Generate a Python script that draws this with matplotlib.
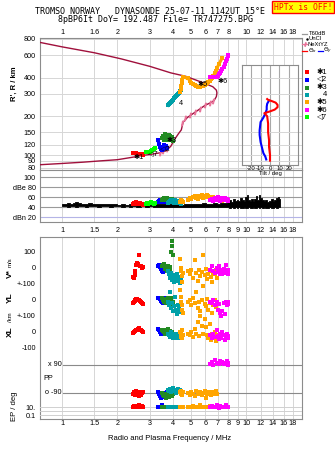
import numpy as np
import matplotlib.pyplot as plt
from matplotlib.ticker import NullLocator
from matplotlib.patches import Rectangle

plt.rcParams['font.family'] = ['Liberation Sans', 'DejaVu Sans']
plt.rcParams['font.size'] = 5.2

# ---- data ----
freq_ticks = [1, 1.5, 2, 3, 4, 5, 6, 7, 8, 9, 10, 12, 14, 16, 18]
top_labels = ['1', '1.6', '2', '3', '4', '5', '6', '7', '8', '', '10', '12', '14', '16', '18']
low_labels = ['1', '1.5', '2', '3', '4', '5', '6', '7', '8', '9', '10', '12', '14', '16', '18']
height_ticks = [80, 90, 100, 120, 150, 200, 300, 400, 600, 800]

# model profile (bottomside then topside)
prof_f = [0.75, 1.0, 1.3, 1.6, 2.0, 2.4, 2.7, 3.0, 3.4, 3.7, 3.9, 4.1, 4.3, 4.45, 4.55, 4.8, 5.1,
          5.5, 6.0, 6.4, 6.7, 6.9, 6.95, 6.9, 6.6, 6.0, 5.3, 4.7, 3.9, 3.0, 2.1, 1.5, 1.0, 0.75]
prof_h = [84, 86, 88, 90, 92, 96, 99, 101, 104, 109, 117, 133, 147, 157, 180, 196, 208,
          224, 244, 255, 265, 285, 305, 320, 340, 360, 385, 410, 436, 490, 560, 625, 695, 755]
nexyz_f = [3.4, 3.55, 3.7, 4.47, 4.66, 4.97, 5.28, 5.62, 5.98, 6.37, 6.62]
nexyz_h = [104, 108, 111, 178, 193, 204, 216, 230, 244, 254, 265]

# echo 1 (red)
e1_f = [2.42, 2.45, 2.48, 2.50, 2.53, 2.56, 2.59, 2.62, 2.65, 2.68, 2.72, 2.76]
e1_h = [104, 104, 103.5, 103, 103, 102.5, 102, 102, 101.5, 101, 101, 100.5]
e1_db = [46, 48, 49, 47, 50, 48, 49, 47, 48, 46, 47, 45]
e1_v = [-55, -60, -45, -20, 20, 30, 25, 80, 10, 15, 0, 5]
e1_yl = [-20, -15, -5, 0, 5, 5, 0, 0, -5, -10, -20, -25]
e1_xl = [-5, 0, 5, 5, 10, 15, 20, 25, 15, 10, 5, 0]
e1_pp = [-95, -85, -100, -90, -80, -95, -88, -110, -85, -100, -90, -82]
e1_ep = [12, 15, 10, 20, 11, 14, 10, 25, 12, 10, 18, 11]
# echo 2 (blue)
e2_f = [3.32, 3.36, 3.40, 3.44, 3.48, 3.52, 3.56, 3.60, 3.66, 3.72]
e2_h = [130, 122, 116, 112, 110, 112, 116, 120, 118, 114]
e2_db = [50, 52, 54, 53, 51, 55, 52, 50, 53, 51]
e2_v = [15, 20, 5, -5, -20, -25, -10, 0, 10, -15]
e2_yl = [15, 10, 5, -5, -15, -20, 0, 10, 5, -10]
e2_xl = [20, 10, 0, -10, 5, 15, -5, 0, 10, -15]
e2_pp = [-85, -95, -110, -120, -100, -90, -105, -115, -95, -85]
e2_ep = [10, 12, 8, 10, 30, 10, 9, 11, 10, 8]
# echo 3 (dark green)
e3_f = [3.50, 3.55, 3.60, 3.64, 3.68, 3.72, 3.76, 3.80, 3.84, 3.88, 3.92, 3.95, 3.98, 4.02]
e3_h = [135, 140, 132, 145, 138, 142, 130, 143, 136, 140, 132, 138, 130, 128]
e3_db = [54, 56, 58, 55, 57, 59, 56, 54, 57, 55, 53, 56, 52, 54]
e3_v = [10, 20, 25, -5, 0, -20, 15, -30, 5, -10, 100, 170, 140, 80]
e3_yl = [10, 0, -10, 5, -20, -5, 15, -30, 0, -15, 10, -40, -25, -10]
e3_xl = [15, 5, 0, -10, 10, -5, 20, 0, -15, 5, -10, 0, -5, -10]
e3_pp = [-90, -100, -110, -95, -120, -105, -90, -115, -100, -95, -85, -100, -110, -95]
e3_ep = [10, 9, 11, 10, 8, 10, 12, 10, 9, 10, 11, 10, 9, 10]
# echo 4 (teal)
e4_f = [3.78, 3.83, 3.88, 3.93, 3.98, 4.03, 4.08, 4.13, 4.18, 4.23, 4.28, 4.33, 4.38, 4.43]
e4_h = [244, 249, 254, 259, 265, 270, 276, 282, 288, 294, 300, 306, 313, 320]
e4_db = [48, 50, 52, 55, 51, 53, 49, 54, 50, 52, 48, 51, 49, 47]
e4_v = [-20, -40, -60, -30, -75, -50, -90, -45, -70, -35, -80, -55, -95, -60]
e4_yl = [-10, -30, 50, -50, -20, -70, -40, 20, -60, -85, -30, -50, -75, -20]
e4_xl = [-10, -20, -30, 0, -25, -40, -15, -35, -20, -10, -30, -40, -5, -25]
e4_pp = [-70, -80, -65, -85, -75, -60, -80, -70, -90, -75, -65, -85, -70, -80]
e4_ep = [10, 11, 10, 9, 10, 12, 10, 11, 9, 10, 10, 11, 10, 9]
# echo 5 (orange)
e5_f = [4.38, 4.41, 4.44, 4.47, 4.50, 4.53, 4.85, 4.95, 5.05, 5.15, 5.25, 5.35, 5.45, 5.55, 5.65,
        5.75, 5.85, 5.95, 6.05, 6.15, 6.25, 6.35, 6.45, 6.55, 6.65, 6.75, 6.85, 6.95, 7.15, 7.40]
e5_h = [309, 325, 345, 365, 385, 406, 395, 378, 365, 355, 348, 342, 340, 338, 340,
        343, 346, 350, 356, 362, 370, 378, 388, 400, 415, 432, 452, 475, 515, 565]
e5_db = [50, 52, 54, 51, 53, 50, 55, 58, 56, 60, 62, 59, 57, 63, 61,
         64, 58, 62, 60, 65, 63, 59, 61, 58, 60, 56, 58, 55, 54, 52]
e5_v = [55, 0, -20, -50, -90, -30, -20, -40, -10, -60, 50, -30, -80, -15, -50,
        -25, 80, -45, -5, -70, -35, -20, -55, -90, -30, -40, -10, -60, np.nan, np.nan]
e5_yl = [60, 20, -10, -30, -60, -80, -10, 0, -30, 10, -20, 50, -50, -15, -70,
         0, 90, -25, -40, 5, -60, -20, -10, -80, -30, 0, -45, -20, np.nan, np.nan]
e5_xl = [0, -15, -30, -40, 10, -20, -10, -20, 0, -30, 20, -15, 60, -25, 100,
         40, -10, 80, 30, -20, -40, 50, -50, -10, -35, 0, -55, -20, np.nan, np.nan]
e5_pp = [-85, -95, -80, -100, -90, -85, -90, -100, -85, -95, -110, -80, -90, -95, -85,
         -100, -90, -80, -120, -95, -85, -90, -100, -85, -95, -90, -80, -95, np.nan, np.nan]
e5_ep = [10, 12, 9, 10, 11, 10, 9, 12, 10, 20, 10, 9, 11, 10, 25,
         10, 12, 9, 10, 11, 10, 18, 10, 9, 11, 10, 12, 10, np.nan, np.nan]
# echo 6 (magenta)
e6_f = [6.35, 6.50, 6.65, 6.80, 6.95, 7.05, 7.15, 7.25, 7.35, 7.45, 7.55, 7.65, 7.75, 7.85, 7.95, 8.0]
e6_h = [405, 403, 402, 404, 408, 415, 425, 438, 452, 468, 488, 510, 535, 560, 585, 600]
e6_db = [54, 56, 52, 58, 55, 60, 57, 53, 59, 56, 54, 58, 55, 57, 53, 55]
e6_v = [-10, 10, -20, -30, 0, -25, 15, -35, -15, -40, -5, -30, 20, -20, -35, -10]
e6_yl = [-10, -20, 0, -30, -15, -60, -25, -80, -100, -70, -20, -90, -10, -30, -25, -15]
e6_xl = [-20, -40, -10, -30, 10, -25, -45, -15, -35, 0, -20, -50, -30, -10, -25, -40]
e6_pp = [95, 110, 90, 120, 100, 105, 95, 115, 100, 110, 95, 105, 100, 115, 90, 100]
e6_ep = [10, 20, 8, 12, 30, 10, 5, 15, 10, 9, 12, 10, 25, 10, 8, 11]
# echo 7 (lime)
e7_f = [2.85, 2.90, 2.95, 3.00, 3.05, 3.10, 3.15, 3.22]
e7_h = [106, 105, 105, 106, 107, 109, 111, 113]
e7_db = [46, 48, 47, 49, 50, 48, 47, 49]

echo_colors = ['#ff0000', '#0000ff', '#228b22', '#00a0a8', '#ffa500', '#ff00ff', '#00ff00']
echo_names = ['\u27311', '\u25c12', '\u27313', '4', '\u27315', '\u27316', '\u25c17']
label_f = [2.62, 3.63, 3.96, 4.43, 5.84, 7.51, 3.12]
label_h = [95.5, 112, 130, 253, 355, 376, 103]

# noise amplitude
noise_f = [1.0, 1.04, 1.08, 1.12, 1.16, 1.2, 1.25, 1.3, 1.36, 1.42, 1.5, 1.58, 1.66, 1.75, 1.85, 1.95,
           2.05, 2.15, 2.25, 2.35, 2.45, 2.6, 2.75, 2.9, 3.05, 3.2,
           3.4, 3.6, 3.8, 4.0, 4.25, 4.5, 4.75, 5.0,
           5.3, 5.6, 5.9, 6.2, 6.5, 6.8, 7.1, 7.4, 7.7, 8.0,
           8.2, 8.4, 8.6, 8.8, 9.0, 9.2, 9.4, 9.6, 9.8, 10.0,
           10.2, 10.4, 10.6, 10.8, 11.0, 11.2, 11.4, 11.6, 11.8, 12.0,
           12.3, 12.6, 12.9, 13.2, 13.5, 13.8, 14.1, 14.4, 14.7, 15.0, 15.3]
noise_hi = [47, 46, 48, 47, 49, 50, 48, 47, 46, 48, 47, 46, 47, 46, 47, 46,
            45, 46, 45, 46, 45, 46, 45, 46, 45, 46,
            46, 47, 46, 47, 46, 45, 46, 47,
            47, 46, 48, 47, 46, 48, 47, 49, 48, 50,
            54, 50, 57, 52, 55, 53, 58, 54, 52, 60,
            65, 55, 52, 57, 53, 56, 62, 54, 65, 58,
            55, 52, 54, 51, 53, 56, 52, 55, 58, 60, 56]
noise_lo = [42, 42, 41, 42, 42, 41, 42, 42, 41, 42, 42, 41, 42, 42, 41, 42,
            42, 41, 42, 41, 42, 41, 42, 41, 42, 41,
            41, 40, 41, 40, 41, 40, 41, 40,
            41, 40, 41, 40, 41, 40, 41, 40, 41, 40,
            39, 40, 38, 40, 39, 40, 38, 39, 40, 39,
            38, 40, 39, 38, 40, 39, 38, 40, 39, 40,
            39, 40, 38, 39, 40, 39, 38, 40, 39, 40, 41]

# tilt vs height
tiltx_deg = [0, 0, -1, -1, -2, -2, -3, -6, 0, 5, 8, 8, 6, 2, -2, -3]
tiltx_h = [90, 100, 115, 130, 150, 175, 200, 211, 218, 225, 235, 245, 255, 262, 268, 272]
tilty_deg = [-4, -5, -7, -8, -10, -11, -11, -10, -7, -5, -3.5, -3.5, -3, -1]
tilty_h = [92, 97, 103, 110, 126, 143, 155, 180, 195, 210, 225, 237, 250, 265]

# ---- figure ----
W, H = 335, 451
fig = plt.figure(figsize=(W / 100, H / 100), dpi=100)


def box(x0, y0, x1, y1):
    return [x0 / W, 1 - y1 / H, (x1 - x0) / W, (y1 - y0) / H]


GRID = '#d6d6d6'
FRAME = '#8c8c8c'


def freq_axes(ax, grid=True):
    ax.set_xscale('log')
    ax.set_xlim(0.759, 20.15)
    ax.set_xticks(freq_ticks)
    ax.xaxis.set_minor_locator(NullLocator())
    ax.yaxis.set_minor_locator(NullLocator())
    for s in ax.spines.values():
        s.set_color(FRAME)
        s.set_linewidth(0.8)
    ax.tick_params(length=0, labelsize=5.2)
    if grid:
        for f in freq_ticks:
            ax.axvline(f, color=GRID, lw=0.7, zorder=0)


# top: virtual height
ax1 = fig.add_axes(box(40, 38.3, 302, 170))
freq_axes(ax1)
ax1.set_yscale('log')
ax1.set_ylim(76.5, 810)
ax1.yaxis.set_minor_locator(NullLocator())
ax1.set_yticks(height_ticks)
ax1.set_yticklabels([str(h) for h in height_ticks])
ax1.tick_params(axis='y', pad=3)
ax1.xaxis.tick_top()
ax1.set_xticklabels(top_labels)
ax1.tick_params(axis='x', pad=1.5)
for h in height_ticks:
    ax1.axhline(h, color=GRID, lw=0.7, zorder=0)

ax1.plot(prof_f, prof_h, color='#a0103c', lw=1.0, zorder=3)
ax1.plot(nexyz_f, nexyz_h, ls='none', marker='$I$', ms=3.2, color='#e8749a', zorder=4)

echo_f = [e1_f, e2_f, e3_f, e4_f, e5_f, e6_f, e7_f]
echo_h = [e1_h, e2_h, e3_h, e4_h, e5_h, e6_h, e7_h]
echo_db = [e1_db, e2_db, e3_db, e4_db, e5_db, e6_db, e7_db]
for f, h, c in zip(echo_f, echo_h, echo_colors):
    ax1.plot(f, h, color=c, lw=2.2, marker='s', ms=2.3, mew=0, zorder=5)
for name, lf, lh in zip(echo_names, label_f, label_h):
    ax1.text(lf, lh, name, fontsize=5.2, color='black',
             ha='center', va='center', zorder=6)

# tilt inset
axt = fig.add_axes(box(241.7, 65, 298.3, 165))
axt.set_zorder(ax1.get_zorder() + 1)
axt.set_facecolor('white')
axt.set_yscale('log')
axt.set_ylim(83.3, 501)
axt.yaxis.set_minor_locator(NullLocator())
axt.set_yticks([])
axt.set_xlim(-30, 30)
axt.set_xticks([-20, -10, 0, 10, 20])
axt.set_xticklabels(['-20', '-10', '0', '10', '20'])
axt.tick_params(length=0, labelsize=4.3, pad=1)
axt.set_xlabel('Tilt / deg', fontsize=4.3, labelpad=0)
for s in axt.spines.values():
    s.set_color(FRAME)
    s.set_linewidth(0.8)
for t in [-20, -10, 0, 10, 20]:
    axt.axvline(t, color='#a8a8a8', lw=0.8, zorder=0)
for h in [90, 100, 120, 150, 200, 300, 400]:
    axt.axhline(h, color=GRID, lw=0.7, zorder=0)
axt.plot(tilty_deg, tilty_h, color='#0000ff', lw=1.5)
axt.plot(tiltx_deg, tiltx_h, color='#ff0000', lw=1.5)

# amplitude panel
ax2 = fig.add_axes(box(40, 170, 302, 222.3))
freq_axes(ax2)
ax2.set_ylim(9.4, 114)
ax2.set_yticks([20, 40, 60, 80, 100])
ax2.set_yticklabels(['dBn 20', '40', '60', 'dBe 80', '100'])
ax2.tick_params(axis='y', pad=3)
ax2.set_xticklabels(low_labels)
ax2.tick_params(axis='x', pad=3.3)
for lv in [40, 60, 80, 100]:
    ax2.axhline(lv, color='#9a9a9a', lw=0.8, zorder=1)
ax2.axhline(20, color='#b4b4e6', lw=0.8, zorder=1)
ax2.fill_between(noise_f, noise_lo, noise_hi, step='mid', color='black', lw=0.6, zorder=2)
for f, d, c in zip(echo_f, echo_db, echo_colors):
    ax2.plot(f, d, ls='none', marker='s', ms=3, mew=0, color=c, zorder=3)

# lower panel: frame, grid and bottom ticks
ax3 = fig.add_axes(box(40, 237, 302, 419))
freq_axes(ax3)
ax3.set_yticks([])
ax3.set_xticklabels(low_labels)
ax3.tick_params(axis='x', pad=0.8)


def strip(y0, y1, lim, log=False):
    ax = fig.add_axes(box(40, y0, 302, y1), sharex=ax3)
    ax.patch.set_visible(False)
    for s in ax.spines.values():
        s.set_visible(False)
    if log:
        ax.set_yscale('log')
    ax.set_ylim(*lim)
    ax.yaxis.set_minor_locator(NullLocator())
    ax.tick_params(length=0, labelsize=5.2, pad=3, labelbottom=False)
    return ax


ax_v = strip(236, 292, (-150, 200))
ax_v.set_yticks([100, 0])
ax_v.set_yticklabels(['100', '0'])
ax_yl = strip(276, 324, (-150, 150))
ax_yl.set_yticks([100, 0])
ax_yl.set_yticklabels(['+-100', '0'])
ax_xl = strip(308, 356, (-150, 150))
ax_xl.set_yticks([100, 0, -100])
ax_xl.set_yticklabels(['+-100', '0', '-100'])
ax_pp = strip(358, 400, (-135, 135))
ax_pp.set_yticks([])
ax_ep = strip(399, 419, (0.01, 1000), log=True)
ax_ep.set_yticks([10, 0.1])
ax_ep.set_yticklabels(['10.', '0.1'])

xfrac = (63 - 40) / 262
ax_pp.axhline(90, xmin=xfrac, color='#8a8a8a', lw=0.8)
ax_pp.axhline(-90, xmin=xfrac, color='#8a8a8a', lw=0.8)
ax_pp.text(xfrac - 0.005, 90, 'x 90', transform=ax_pp.get_yaxis_transform(),
           ha='right', va='center', fontsize=5.2)
ax_pp.text(xfrac - 0.005, -90, 'o -90', transform=ax_pp.get_yaxis_transform(),
           ha='right', va='center', fontsize=5.2)
ax_pp.text(0.012, 0, 'PP', transform=ax_pp.get_yaxis_transform(),
           ha='left', va='center', fontsize=5.2)
for lv in [10, 1, 0.1]:
    ax_ep.axhline(lv, color='#d0d0d0', lw=0.7, zorder=0)

strip_f = [e1_f, e2_f, e3_f, e4_f, e5_f, e6_f]
strip_sets = [
    (ax_v, [e1_v, e2_v, e3_v, e4_v, e5_v, e6_v]),
    (ax_yl, [e1_yl, e2_yl, e3_yl, e4_yl, e5_yl, e6_yl]),
    (ax_xl, [e1_xl, e2_xl, e3_xl, e4_xl, e5_xl, e6_xl]),
    (ax_pp, [e1_pp, e2_pp, e3_pp, e4_pp, e5_pp, e6_pp]),
    (ax_ep, [e1_ep, e2_ep, e3_ep, e4_ep, e5_ep, e6_ep]),
]
for ax, vals in strip_sets:
    for f, v, c in zip(strip_f, vals, echo_colors):
        ax.plot(f, v, ls='none', marker='s', ms=2.2, mew=0, color=c, clip_on=False)

# ---- overlay for titles, side labels and legend (pixel coordinates) ----
lax = fig.add_axes([0, 0, 1, 1])
lax.set_xlim(0, W)
lax.set_ylim(H, 0)
lax.axis('off')
lax.patch.set_visible(False)

mono = 'DejaVu Sans Mono'
lax.text(150, 12, 'TROMSO NORWAY   DYNASONDE 25-07-11 1142UT 15\u00b0E',
         family=mono, fontsize=6, ha='center', va='center')
lax.text(156, 20, '8pBP6It DoY= 192.487 File= TR747275.BPG',
         family=mono, fontsize=6, ha='center', va='center')
lax.add_patch(Rectangle((272, 1), 62, 12, facecolor='#ffff00', edgecolor='#ff0000', lw=1))
lax.text(303, 7.5, 'HPTx is OFF!', family=mono, fontsize=5.8, color='#ff0000',
         ha='center', va='center')

lax.text(14, 84, "R', R / km", rotation=90, fontsize=5.5, fontweight='bold', ha='center', va='center')
lax.text(10, 274, 'V*', rotation=90, fontsize=6, fontweight='bold', ha='center', va='center')
lax.text(10, 262, 'm/s', rotation=90, fontsize=4.3, ha='center', va='center')
lax.text(10, 298, 'YL', rotation=90, fontsize=6, fontweight='bold', ha='center', va='center')
lax.text(10, 317, '/km', rotation=90, fontsize=4.3, ha='center', va='center')
lax.text(10, 332, 'XL', rotation=90, fontsize=6, fontweight='bold', ha='center', va='center')
lax.text(14, 406, 'EP / deg', rotation=90, fontsize=5.5, ha='center', va='center')
lax.text(170, 439, 'Radio and Plasma Frequency / MHz', fontsize=5.5, ha='center', va='center')

# legend
LF = 4.2
lax.plot([302, 307], [33.5, 33.5], color='#999999', lw=0.9)
lax.text(308.5, 33.5, 'T60dB', fontsize=LF, va='center')
lax.plot([306.5], [38.8], marker='.', ms=1.5, color='black')
lax.text(308.5, 38.8, 'UnCl', fontsize=LF, va='center')
lax.plot([302, 307], [44.2, 44.2], color='#e8749a', lw=0.9)
lax.plot([304.5], [44.2], marker='$I$', ms=2.4, color='#e8749a')
lax.text(308, 44.2, 'NeXtYZ', fontsize=LF, va='center')
lax.plot([302, 307], [50.8, 50.8], color='#ff0000', lw=0.9)
lax.text(308, 50.8, r'$\Theta_x$', fontsize=LF, va='center')
lax.plot([318, 322.5], [50.8, 50.8], color='#0000ff', lw=0.9)
lax.text(323, 50.8, r'$\Theta_y$', fontsize=LF, va='center')
leg_y = [72.3, 80, 87.7, 95, 102.3, 110, 117.3]
for yy, c, name in zip(leg_y, echo_colors, echo_names):
    lax.add_patch(Rectangle((305, yy - 2), 4, 4, facecolor=c, edgecolor='none'))
    lax.text(327, yy, name, fontsize=5.5, ha='right', va='center')

fig.savefig('out.png', dpi=100)
